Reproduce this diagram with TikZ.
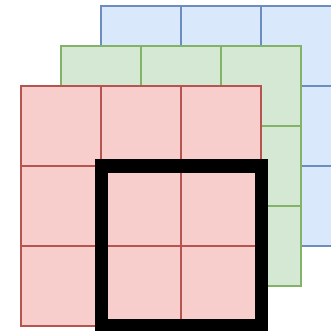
\documentclass[tikz,border=0pt]{standalone}
\definecolor{bfill}{HTML}{DAE8FC}
\definecolor{bline}{HTML}{6C8EBF}
\definecolor{gfill}{HTML}{D5E8D4}
\definecolor{gline}{HTML}{82B366}
\definecolor{rfill}{HTML}{F8CECC}
\definecolor{rline}{HTML}{B85450}
\tikzset{
  cellgrid/.style={line width=1.3, line join=miter},
  bluegrid/.style={cellgrid, draw=bline, fill=bfill},
  greengrid/.style={cellgrid, draw=gline, fill=gfill},
  redgrid/.style={cellgrid, draw=rline, fill=rfill},
  window/.style={draw=black, line width=10, line join=miter}
}
\newcommand{\mygrid}[3]{% style, x0, y0
  \foreach \i in {0,1,2}{\foreach \j in {0,1,2}{
    \path[#1] ({#2+80*\i},{#3+80*\j}) rectangle ++(80,80);
  }}
}
\begin{document}
\begin{tikzpicture}[x=0.75pt,y=-0.75pt]
\useasboundingbox (0,0) rectangle (331,330);
\clip (0,0) rectangle (331,330);
\mygrid{bluegrid}{101}{6}
\mygrid{greengrid}{61}{46}
\mygrid{redgrid}{21}{86}
\draw[window] (101.5,166) rectangle (261.5,326);
\end{tikzpicture}
\end{document}
